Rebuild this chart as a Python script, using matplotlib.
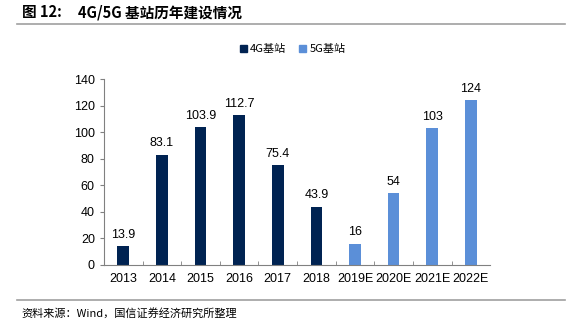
import matplotlib

matplotlib.use("Agg")
import matplotlib.pyplot as plt
from matplotlib.lines import Line2D
from matplotlib.patches import Patch

plt.rcParams["font.family"] = ["Liberation Sans", "Noto Sans CJK SC", "DejaVu Sans"]

years = ["2013", "2014", "2015", "2016", "2017", "2018", "2019E", "2020E", "2021E", "2022E"]
values_4g = [13.9, 83.1, 103.9, 112.7, 75.4, 43.9]
values_5g = [16, 54, 103, 124]
labels_4g = ["13.9", "83.1", "103.9", "112.7", "75.4", "43.9"]
labels_5g = ["16", "54", "103", "124"]

DARK = "#002352"
LIGHT = "#5b8fd8"

fig = plt.figure(figsize=(5.74, 3.27), dpi=100)
ax = fig.add_axes([0.181, 0.19, 0.673, 0.568])

x4 = list(range(len(values_4g)))
x5 = list(range(len(values_4g), len(years)))
ax.bar(x4, values_4g, width=0.3, color=DARK)
ax.bar(x5, values_5g, width=0.3, color=LIGHT)

for x, v, t in zip(x4 + x5, values_4g + values_5g, labels_4g + labels_5g):
    ax.text(x, v + 4, t, ha="center", va="bottom", fontsize=9)

ax.set_xlim(-0.5, len(years) - 0.5)
ax.set_ylim(0, 140)
ax.set_yticks(range(0, 141, 20))
ax.set_xticks(range(len(years)))
ax.set_xticklabels(years)
ax.set_xticks([i + 0.5 for i in range(len(years) - 1)], minor=True)
ax.tick_params(axis="x", which="major", length=0, labelsize=9, pad=6)
ax.tick_params(axis="x", which="minor", direction="in", length=3, color="#808080")
ax.tick_params(axis="y", labelsize=9, length=3, color="#808080")
for s in ("top", "right"):
    ax.spines[s].set_visible(False)
for s in ("left", "bottom"):
    ax.spines[s].set_color("#808080")
    ax.spines[s].set_linewidth(0.8)

handles = [Patch(color=DARK, label="4G基站"), Patch(color=LIGHT, label="5G基站")]
fig.legend(handles=handles, loc="center", bbox_to_anchor=(0.51, 0.85), ncol=2, frameon=False,
           prop={"family": ["Noto Sans CJK SC"], "size": 8}, handlelength=0.6, handleheight=0.6,
           handletextpad=0.3, columnspacing=1.2)

fig.text(0.038, 0.963, "图 12:", fontsize=10.5, fontweight="bold",
         family=["Noto Sans CJK SC"], va="center")
fig.text(0.136, 0.963, "4G/5G 基站历年建设情况", fontsize=10.5, fontweight="bold",
         family=["Noto Sans CJK SC"], va="center")
fig.add_artist(Line2D([0.03, 0.985], [0.928, 0.928], color="#a0a0a0", linewidth=1.2))
fig.add_artist(Line2D([0.03, 0.985], [0.083, 0.083], color="#a0a0a0", linewidth=1.2))
fig.text(0.038, 0.042, "资料来源：Wind，国信证券经济研究所整理", fontsize=8,
         family=["Noto Sans CJK SC", "Liberation Sans"], va="center")

fig.savefig("out.png", dpi=100, facecolor="white")
